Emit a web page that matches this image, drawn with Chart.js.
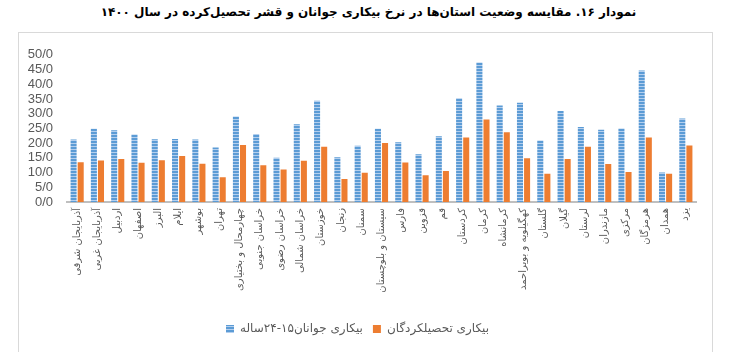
<!DOCTYPE html>
<html>
<head>
<meta charset="utf-8">
<script src="https://cdn.jsdelivr.net/npm/chart.js@4"></script>
<style>
  body { margin: 0; background: #fff; width: 737px; height: 352px; overflow: hidden; position: relative; }
  #title { position: absolute; top: 5px; left: 0; width: 737px; text-align: center; direction: rtl;
           font-family: "DejaVu Sans"; font-weight: bold; font-size: 12px; color: #000; }
  #box { position: absolute; left: 18px; top: 32px; width: 693px; height: 330px; border: 1px solid #d9d9d9; }
</style>
</head>
<body>
<div id="title">نمودار ۱۶. مقایسه وضعیت استان‌ها در نرخ بیکاری جوانان و قشر تحصیل‌کرده در سال ۱۴۰۰</div>
<div id="box"><canvas id="chart" width="693" height="320"></canvas></div>
<script>
// provinces
let provinces = ["آذربایجان شرقی", "آذربایجان غربی", "اردبیل", "اصفهان", "البرز", "ایلام", "بوشهر", "تهران",
  "چهارمحال و بختیاری", "خراسان جنوبی", "خراسان رضوی", "خراسان شمالی", "خوزستان", "زنجان", "سمنان",
  "سیستان و بلوچستان", "فارس", "قزوین", "قم", "کردستان", "کرمان", "کرمانشاه", "کهگیلویه و بویراحمد",
  "گلستان", "گیلان", "لرستان", "مازندران", "مرکزی", "هرمزگان", "همدان", "یزد"];

let youth = [21.2, 24.9, 24.4, 22.9, 21.3, 21.4, 21.2, 18.5, 29.0, 23.1, 15.0, 26.4, 34.4, 15.2, 19.1,
  24.9, 20.3, 16.2, 22.3, 35.2, 47.4, 32.8, 33.7, 20.9, 30.9, 25.5, 24.5, 25.0, 44.7, 10.0, 28.4];
let educated = [13.5, 14.1, 14.6, 13.3, 14.2, 15.6, 13.0, 8.4, 19.4, 12.5, 11.0, 14.0, 18.8, 7.8, 9.9,
  20.0, 13.4, 9.1, 10.5, 21.9, 28.0, 23.7, 14.9, 9.6, 14.6, 18.8, 12.9, 10.2, 21.9, 9.6, 19.2];

let yTicks = [0, 5, 10, 15, 20, 25, 30, 35, 40, 45, 50];

// striped blue fill like the original
function stripes() {
  let c = document.createElement('canvas');
  c.width = 4; c.height = 3;
  let g = c.getContext('2d');
  g.fillStyle = '#5b9bd5';
  g.fillRect(0, 0, 4, 3);
  g.fillStyle = '#b4cfee';
  g.fillRect(0, 2, 4, 1);
  return g.createPattern(c, 'repeat');
}

new Chart(document.getElementById('chart'), {
  type: 'bar',
  data: {
    labels: provinces,
    datasets: [
      { label: 'بیکاری جوانان۱۵-۲۴ساله', data: youth, backgroundColor: stripes(),
        barPercentage: 0.85, categoryPercentage: 0.7 },
      { label: 'بیکاری تحصیلکردگان', data: educated, backgroundColor: '#ed7d31',
        barPercentage: 0.85, categoryPercentage: 0.7 }
    ]
  },
  options: {
    responsive: false,
    animation: false,
    layout: { padding: { top: 16, right: 16, bottom: 8, left: 0 } },
    plugins: {
      tooltip: { enabled: false },
      legend: {
        position: 'bottom',
        labels: { font: { family: 'DejaVu Sans', size: 12 }, color: '#595959', boxWidth: 8, boxHeight: 8, padding: 10 }
      }
    },
    scales: {
      x: {
        grid: { display: false, drawTicks: false },
        border: { color: '#bfbfbf', width: 2 },
        ticks: { autoSkip: false, maxRotation: 90, minRotation: 90, padding: 6,
                 font: { family: 'DejaVu Sans', size: 10 }, color: '#595959' },
        afterFit: function(s) { s.height = 111; }
      },
      y: {
        min: 0, max: 50,
        afterBuildTicks: function(s) { s.ticks = yTicks.map(v => ({ value: v })); },
        grid: { display: false, drawTicks: false },
        border: { display: false },
        ticks: { autoSkip: false, padding: 14, font: { family: 'Liberation Sans', size: 13 }, color: '#595959',
                 callback: v => v + '/0' },
        afterFit: function(s) { s.width = 48; }
      }
    }
  }
});
</script>
</body>
</html>
